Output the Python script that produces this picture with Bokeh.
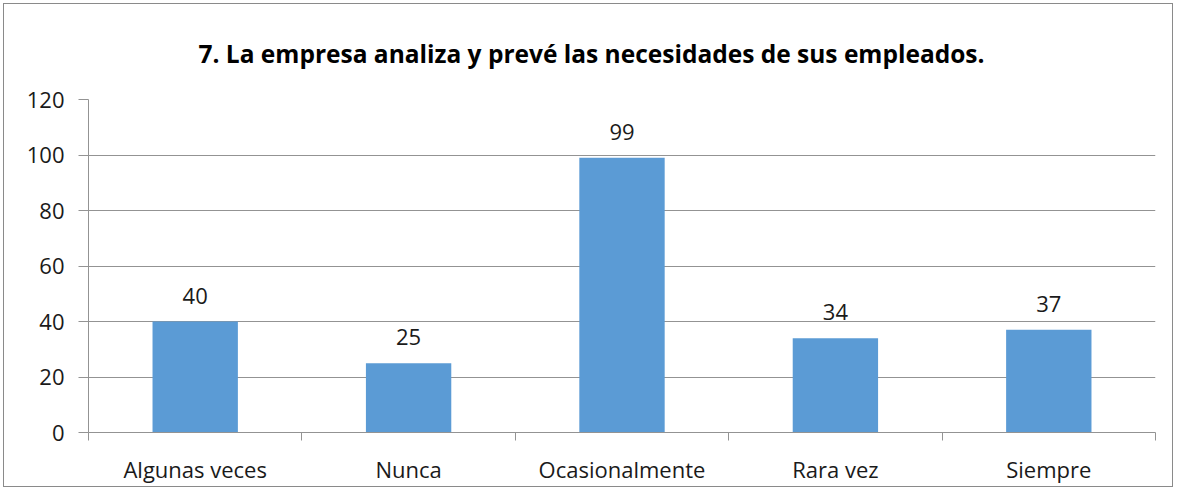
from bokeh.plotting import figure
from bokeh.models import ColumnDataSource, FixedTicker, Range1d
from bokeh.embed import file_html
from bokeh.resources import INLINE
from bokeh.core.properties import value

categories = ["Algunas veces", "Nunca", "Ocasionalmente", "Rara vez", "Siempre"]
counts = [40, 25, 99, 34, 37]
y_ticks = [0, 20, 40, 60, 80, 100, 120]
title_text = "7. La empresa analiza y prevé las necesidades de sus empleados."

FONT = "Open Sans"
centers = [i + 0.5 for i in range(len(categories))]
bounds = list(range(len(categories) + 1))

src = ColumnDataSource(dict(x=centers, top=counts, label=[str(c) for c in counts]))

p = figure(width=1170, height=484, output_backend="svg", toolbar_location=None,
           x_range=Range1d(0, len(categories)), y_range=Range1d(0, 120),
           min_border_left=84, min_border_right=19, min_border_top=87, min_border_bottom=56)

p.title.text = title_text
p.title.align = "left"
p.title.offset = 110
p.title.standoff = 60
p.title.text_font = FONT
p.title.text_font_size = "24.5px"
p.title.text_font_style = "bold"
p.title.text_color = "#000000"

p.vbar(x="x", top="top", width=0.4, bottom=0, source=src, fill_color="#5B9BD5", line_color=None)
p.text(x="x", y="top", text="label", source=src, text_align="center", text_baseline="middle",
       y_offset=-26, text_font=value(FONT), text_font_size="22px", text_color="#1a1a1a")

p.outline_line_color = None
p.xgrid.grid_line_color = None
p.ygrid.grid_line_color = "#939393"
p.ygrid.grid_line_width = 1

xa = p.xaxis[0]
xa.ticker = FixedTicker(ticks=centers, minor_ticks=bounds)
xa.major_label_overrides = {c: categories[i] for i, c in enumerate(centers)}
xa.major_tick_line_color = None
xa.minor_tick_out = 8
xa.minor_tick_in = 0
xa.minor_tick_line_color = "#939393"
xa.axis_line_color = "#939393"
xa.major_label_text_font = FONT
xa.major_label_text_font_size = "22px"
xa.major_label_text_color = "#1a1a1a"
xa.major_label_standoff = 13

ya = p.yaxis[0]
ya.ticker = FixedTicker(ticks=y_ticks)
ya.axis_line_color = "#939393"
ya.major_tick_line_color = "#939393"
ya.major_tick_out = 10
ya.major_tick_in = 0
ya.minor_tick_line_color = None
ya.major_label_text_font = FONT
ya.major_label_text_font_size = "22px"
ya.major_label_text_color = "#1a1a1a"
ya.major_label_standoff = 14

p.styles = {"border": "1px solid #8a8a8a", "margin": "3px"}

open("out.html", "w").write(file_html(p, INLINE))
